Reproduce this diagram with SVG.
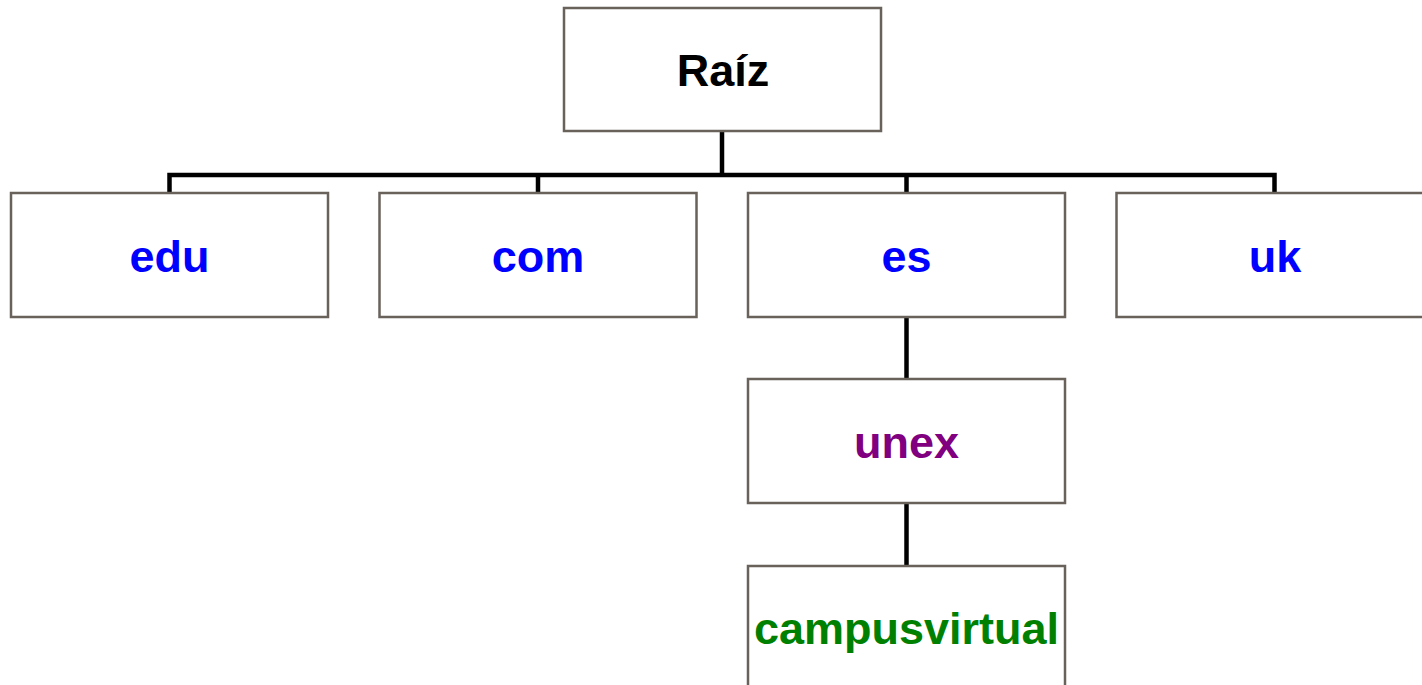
<svg xmlns="http://www.w3.org/2000/svg" width="1422" height="685" viewBox="0 0 1422 685">
  <style>
    .box { fill: #ffffff; stroke: #68625b; stroke-width: 2.5; }
    .lbl { font-family: "Liberation Sans", Arial, sans-serif; font-weight: bold; font-size: 45px; text-anchor: middle; }
    .tld { fill: #0000ff; }
    .wire { fill: none; stroke: #000000; stroke-width: 4.5; }
  </style>
  <rect width="1422" height="685" fill="#ffffff"/>

  <!-- tree connectors -->
  <g id="connectors">
    <line class="wire" x1="722" y1="131" x2="722" y2="175"/>
    <polyline class="wire" points="169.5,193 169.5,175 1274.5,175 1274.5,193"/>
    <line class="wire" x1="538" y1="175" x2="538" y2="193"/>
    <line class="wire" x1="906.5" y1="175" x2="906.5" y2="193"/>
    <line class="wire" x1="906.5" y1="317" x2="906.5" y2="379"/>
    <line class="wire" x1="906.5" y1="503" x2="906.5" y2="566"/>
  </g>

  <g id="root">
    <rect class="box" x="564" y="8" width="317" height="123"/>
    <text class="lbl" x="723" y="86" fill="#000000">Raíz</text>
  </g>

  <g id="edu">
    <rect class="box" x="11" y="193" width="317" height="124"/>
    <text class="lbl tld" x="169.5" y="272">edu</text>
  </g>

  <g id="com">
    <rect class="box" x="379.5" y="193" width="317" height="124"/>
    <text class="lbl tld" x="538" y="272">com</text>
  </g>

  <g id="es">
    <rect class="box" x="748" y="193" width="317" height="124"/>
    <text class="lbl tld" x="906.5" y="272">es</text>
  </g>

  <g id="uk">
    <rect class="box" x="1116.5" y="193" width="317" height="124"/>
    <text class="lbl tld" x="1275" y="272">uk</text>
  </g>

  <g id="unex">
    <rect class="box" x="748" y="379" width="317" height="124"/>
    <text class="lbl" x="906.5" y="458" fill="#800080">unex</text>
  </g>

  <g id="campusvirtual">
    <rect class="box" x="748" y="566" width="317" height="124"/>
    <text class="lbl" x="906.5" y="644" fill="#008000">campusvirtual</text>
  </g>
</svg>
